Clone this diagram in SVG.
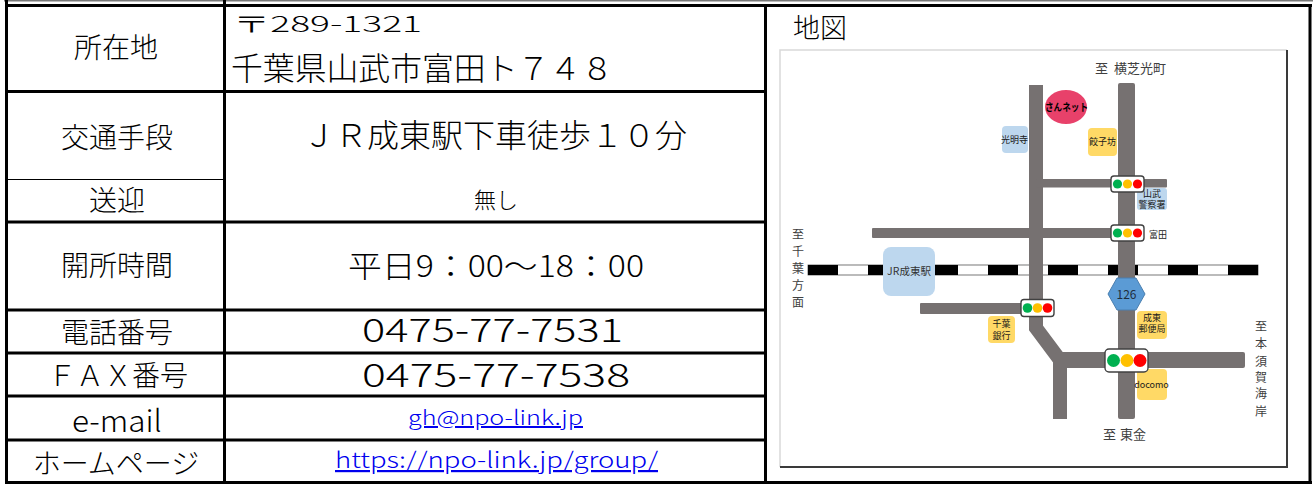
<svg xmlns="http://www.w3.org/2000/svg" width="1313" height="484" viewBox="0 0 1313 484">
<style>
text{font-family:"Noto Sans CJK JP","Noto Sans",sans-serif;fill:#000;font-weight:300}
.lbl{font-size:28px;text-anchor:middle}
.grid{stroke:#000;stroke-width:3;fill:none}
.thin{stroke:#000;stroke-width:1.2}
.link{fill:#0000ee;text-decoration:underline;text-anchor:middle}
.road{fill:#767171}
.roadl{fill:none;stroke:#767171}
.tl{fill:#fff;stroke:#404040;stroke-width:1.4}
.g{fill:#00b050}.y{fill:#ffc000}.r{fill:#ff0000}
.blue{fill:#bdd7ee}
.yel{fill:#ffd966}
.ml{font-size:9px;fill:#1a1a1a;text-anchor:middle;font-weight:400}
.dir{font-size:13px;fill:#404040;font-weight:400}
.vdir{font-size:12px;fill:#404040;text-anchor:middle;font-weight:400}
.sn{font-size:10.5px;font-weight:700;fill:#000;text-anchor:middle}
.st{font-size:10.5px;fill:#333;text-anchor:middle;font-weight:400}
.rt{font-size:12px;fill:#1f2d3d;text-anchor:middle;font-weight:400}
</style>

<g id="table-lines">
<line x1="4" y1="0.8" x2="1313" y2="0.8" stroke="#777" stroke-width="1.5"/>
<line class="grid" x1="6.5" y1="0" x2="6.5" y2="484"/>
<line class="grid" x1="224.5" y1="0" x2="224.5" y2="484"/>
<line class="grid" x1="765.5" y1="4" x2="765.5" y2="484"/>
<line class="grid" x1="1310" y1="4" x2="1310" y2="484"/>
<line class="grid" x1="5" y1="5.5" x2="1312" y2="5.5"/>
<line class="grid" x1="5" y1="482.5" x2="1312" y2="482.5"/>
<line class="grid" x1="5" y1="91.5" x2="765" y2="91.5"/>
<line class="thin" x1="6" y1="179.5" x2="224" y2="179.5"/>
<line class="grid" x1="5" y1="222" x2="765" y2="222"/>
<line class="grid" x1="5" y1="310" x2="765" y2="310"/>
<line class="grid" x1="5" y1="353" x2="765" y2="353"/>
<line class="grid" x1="5" y1="396" x2="765" y2="396"/>
<line class="grid" x1="5" y1="440" x2="765" y2="440"/>
</g>

<g id="row-address">
<text class="lbl" x="116" y="58">所在地</text>
<text x="233" y="32" font-size="22" textLength="189" lengthAdjust="spacingAndGlyphs">〒289-1321</text>
<text x="231" y="80" font-size="31.5" textLength="382" lengthAdjust="spacingAndGlyphs">千葉県山武市富田ト７４８</text>
</g>
<g id="row-access">
<text class="lbl" x="117" y="148">交通手段</text>
<text x="495" y="147" font-size="32" text-anchor="middle">ＪＲ成東駅下車徒歩１０分</text>
</g>
<g id="row-pickup">
<text class="lbl" x="117" y="211">送迎</text>
<text x="496" y="208" font-size="22" text-anchor="middle">無し</text>
</g>
<g id="row-hours">
<text class="lbl" x="117" y="276">開所時間</text>
<text x="348" y="277" font-size="30" textLength="296" lengthAdjust="spacingAndGlyphs">平日9：00～18：00</text>
</g>
<g id="row-tel">
<text class="lbl" x="117" y="343">電話番号</text>
<text x="362" y="342" font-size="33" textLength="261" lengthAdjust="spacingAndGlyphs">0475-77-7531</text>
</g>
<g id="row-fax">
<text class="lbl" x="118" y="386">ＦＡＸ番号</text>
<text x="362" y="387" font-size="33" textLength="268" lengthAdjust="spacingAndGlyphs">0475-77-7538</text>
</g>
<g id="row-email">
<text x="72" y="432" font-size="30" textLength="90" lengthAdjust="spacingAndGlyphs">e-mail</text>
<text class="link" x="495.5" y="425" font-size="20" textLength="175" lengthAdjust="spacingAndGlyphs">gh@npo-link.jp</text>
</g>
<g id="row-home">
<text class="lbl" x="116" y="474">ホームページ</text>
<text class="link" x="496.5" y="468" font-size="22" textLength="323" lengthAdjust="spacingAndGlyphs">https://npo-link.jp/group/</text>
</g>

<g id="map-cell">
<text x="793" y="37.5" font-size="27">地図</text>
<rect x="780" y="50" width="507" height="417" fill="#fff"/>
<polyline points="780,467 780,50 1287,50" fill="none" stroke="#d9d9d9" stroke-width="1.5"/>
<polyline points="1287,50 1287,467 780,467" fill="none" stroke="#3a3a3a" stroke-width="2"/>
</g>

<g id="railway">
<rect x="808" y="265" width="450" height="10" fill="#fff" stroke="#555" stroke-width="0.8"/>
<line x1="808" y1="270" x2="1258" y2="270" stroke="#000" stroke-width="10" stroke-dasharray="30 30"/>
</g>

<g id="roads">
<path class="roadl" d="M1036,85 L1036,328 L1060,360 L1060,419" stroke-width="14"/>
<rect class="road" x="1118" y="83" width="17" height="336" rx="2"/>
<rect class="road" x="1036" y="179" width="131" height="8.5" rx="1"/>
<rect class="road" x="872" y="228" width="250" height="10" rx="1"/>
<rect class="road" x="920" y="303" width="116" height="11" rx="1"/>
<rect class="road" x="1055" y="352" width="190" height="16" rx="2"/>
</g>

<g id="station">
<rect class="blue" x="883" y="247" width="52" height="49" rx="8"/>
<text class="st" x="909" y="275">JR成東駅</text>
</g>

<g id="route126">
<polygon points="1108,294 1117,278 1136,278 1145,294 1136,310 1117,310" fill="#5b9bd5" stroke="#4a7fb0" stroke-width="1"/>
<text class="rt" x="1126.5" y="298.5">126</text>
</g>

<g id="sannet">
<ellipse cx="1066" cy="107" rx="21" ry="17" fill="#e8416a"/>
<text class="sn" x="1066.5" y="111" textLength="43" lengthAdjust="spacingAndGlyphs">さんネット</text>
</g>

<g id="komyoji">
<rect class="blue" x="1002" y="126" width="26" height="27" rx="4"/>
<text class="ml" x="1014.5" y="142.5">光明寺</text>
</g>

<g id="gyozabo">
<rect class="yel" x="1088" y="128" width="29" height="28" rx="4"/>
<text class="ml" x="1102.5" y="145">餃子坊</text>
</g>

<g id="police">
<rect class="blue" x="1137" y="188" width="30" height="22" rx="3"/>
<text class="ml" x="1152" y="196.5">山武</text>
<text class="ml" x="1152" y="208">警察署</text>
</g>

<g id="tomita">
<text class="ml" x="1158" y="237.5">富田</text>
</g>

<g id="chibabank">
<rect class="yel" x="988" y="316" width="27" height="27" rx="4"/>
<text class="ml" x="1001.5" y="326.5">千葉</text>
<text class="ml" x="1001.5" y="338.5">銀行</text>
</g>

<g id="postoffice">
<rect class="yel" x="1137" y="311" width="30" height="28" rx="4"/>
<text class="ml" x="1152" y="320.5">成東</text>
<text class="ml" x="1152" y="332">郵便局</text>
</g>

<g id="docomo">
<rect class="yel" x="1137" y="369" width="30" height="31" rx="4"/>
<text class="ml" x="1151.5" y="388">docomo</text>
</g>

<g id="lights">
<rect class="tl" x="1111" y="176" width="33" height="16" rx="3"/>
<circle class="g" cx="1117.5" cy="184" r="4.6"/><circle class="y" cx="1127.5" cy="184" r="4.6"/><circle class="r" cx="1137.5" cy="184" r="4.6"/>
<rect class="tl" x="1111" y="225" width="33" height="16" rx="3"/>
<circle class="g" cx="1117.5" cy="233" r="4.6"/><circle class="y" cx="1127.5" cy="233" r="4.6"/><circle class="r" cx="1137.5" cy="233" r="4.6"/>
<rect class="tl" x="1021" y="299.5" width="33" height="17" rx="3"/>
<circle class="g" cx="1027.5" cy="308" r="4.8"/><circle class="y" cx="1037.5" cy="308" r="4.8"/><circle class="r" cx="1047.5" cy="308" r="4.8"/>
<rect class="tl" x="1105" y="349" width="43" height="23" rx="4"/>
<circle class="g" cx="1113.5" cy="360.5" r="6.5"/><circle class="y" cx="1127" cy="360.5" r="6.5"/><circle class="r" cx="1140" cy="360.5" r="6.5"/>
</g>

<g id="directions">
<text class="dir" x="1095" y="73">至</text>
<text class="dir" x="1114" y="73">横芝光町</text>
<text class="dir" x="1103" y="439">至</text>
<text class="dir" x="1120" y="439">東金</text>
<text class="vdir" x="798" y="239">至</text>
<text class="vdir" x="798" y="256">千</text>
<text class="vdir" x="798" y="273">葉</text>
<text class="vdir" x="798" y="290">方</text>
<text class="vdir" x="798" y="307">面</text>
<text class="vdir" x="1261" y="331">至</text>
<text class="vdir" x="1261" y="348">本</text>
<text class="vdir" x="1261" y="366">須</text>
<text class="vdir" x="1261" y="382">賀</text>
<text class="vdir" x="1261" y="398">海</text>
<text class="vdir" x="1261" y="416">岸</text>
</g>
</svg>
